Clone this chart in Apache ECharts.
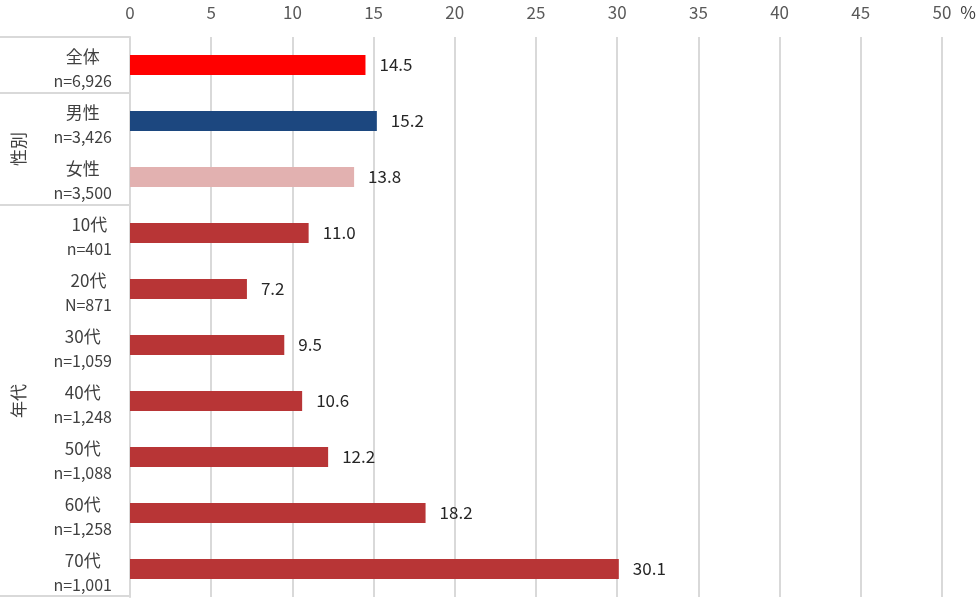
<!DOCTYPE html>
<html>
<head>
<meta charset="utf-8">
<script src="https://cdn.jsdelivr.net/npm/echarts@6/dist/echarts.min.js"></script>
<style>
html,body{margin:0;padding:0;background:#fff;}
#main{width:980px;height:604px;}
</style>
</head>
<body>
<div id="main"></div>
<script>
const categories = ['全体', '男性', '女性', '10代', '20代', '30代', '40代', '50代', '60代', '70代'];
const sampleSizes = ['n=6,926', 'n=3,426', 'n=3,500', 'n=401', 'N=871', 'n=1,059', 'n=1,248', 'n=1,088', 'n=1,258', 'n=1,001'];
const values = [14.5, 15.2, 13.8, 11.0, 7.2, 9.5, 10.6, 12.2, 18.2, 30.1];
const barColors = ['#FF0000', '#1C477F', '#E2B1B0', '#B83536', '#B83536', '#B83536', '#B83536', '#B83536', '#B83536', '#B83536'];
const groups = [
  { name: '性別', from: 1, to: 2 },
  { name: '年代', from: 3, to: 9 }
];
const xTicks = { min: 0, max: 50, interval: 5 };

const W = 980, H = 604;
const G = { left: 130, right: 38, top: 37, bottom: 7 };
const plotTop = G.top, plotBottom = H - G.bottom;
const rowH = (plotBottom - plotTop) / categories.length;

const font = '"Noto Sans CJK JP", "Noto Sans", sans-serif';

const graphics = [];
const bounds = [0, 1, 3, categories.length];
bounds.forEach(b => {
  const y = Math.round(plotTop + b * rowH) - (b === categories.length ? 1 : 0);
  graphics.push({
    type: 'line', shape: { x1: 0, y1: y, x2: G.left, y2: y },
    style: { stroke: '#D9D9D9', lineWidth: 2 }, silent: true
  });
});
groups.forEach(g => {
  const cy = plotTop + ((g.from + g.to + 1) / 2) * rowH;
  graphics.push({
    type: 'text', x: 19, y: cy, rotation: Math.PI / 2,
    style: { text: g.name, font: '17px ' + font, fill: '#404040', textAlign: 'center', textVerticalAlign: 'middle' }
  });
});
graphics.push({
  type: 'text', x: 968, y: 13,
  style: { text: '%', font: '17px ' + font, fill: '#404040', textAlign: 'center', textVerticalAlign: 'middle' }
});

const chart = echarts.init(document.getElementById('main'), null, { renderer: 'canvas' });
chart.setOption({
  animation: false,
  backgroundColor: '#fff',
  grid: { left: G.left, right: G.right, top: G.top, bottom: G.bottom, containLabel: false },
  xAxis: {
    type: 'value', position: 'top', min: xTicks.min, max: xTicks.max, interval: xTicks.interval,
    axisLine: { show: false }, axisTick: { show: false },
    axisLabel: { color: '#595959', fontSize: 17, fontFamily: font, margin: 16 },
    splitLine: { show: true, lineStyle: { color: '#D9D9D9', width: 2 } }
  },
  yAxis: {
    type: 'category', inverse: true, data: categories,
    axisLine: { show: true, lineStyle: { color: '#D9D9D9', width: 2 } },
    axisTick: { show: false },
    axisLabel: {
      margin: 18,
      padding: [7, 0, 0, 0],
      formatter: (v, i) => '{a|' + v + '}\n{b|' + sampleSizes[i] + '}',
      rich: {
        a: { align: 'center', fontSize: 17, color: '#404040', fontFamily: font, lineHeight: 24 },
        b: { align: 'center', fontSize: 16, color: '#404040', fontFamily: font, lineHeight: 24 }
      }
    }
  },
  series: [{
    type: 'bar', barWidth: 20,
    data: values.map((v, i) => ({ value: v, itemStyle: { color: barColors[i] } })),
    label: {
      show: true, position: 'right', distance: 14,
      formatter: p => p.value.toFixed(1),
      color: '#262626', fontSize: 17, fontFamily: font
    }
  }],
  graphic: graphics
});
</script>
</body>
</html>
